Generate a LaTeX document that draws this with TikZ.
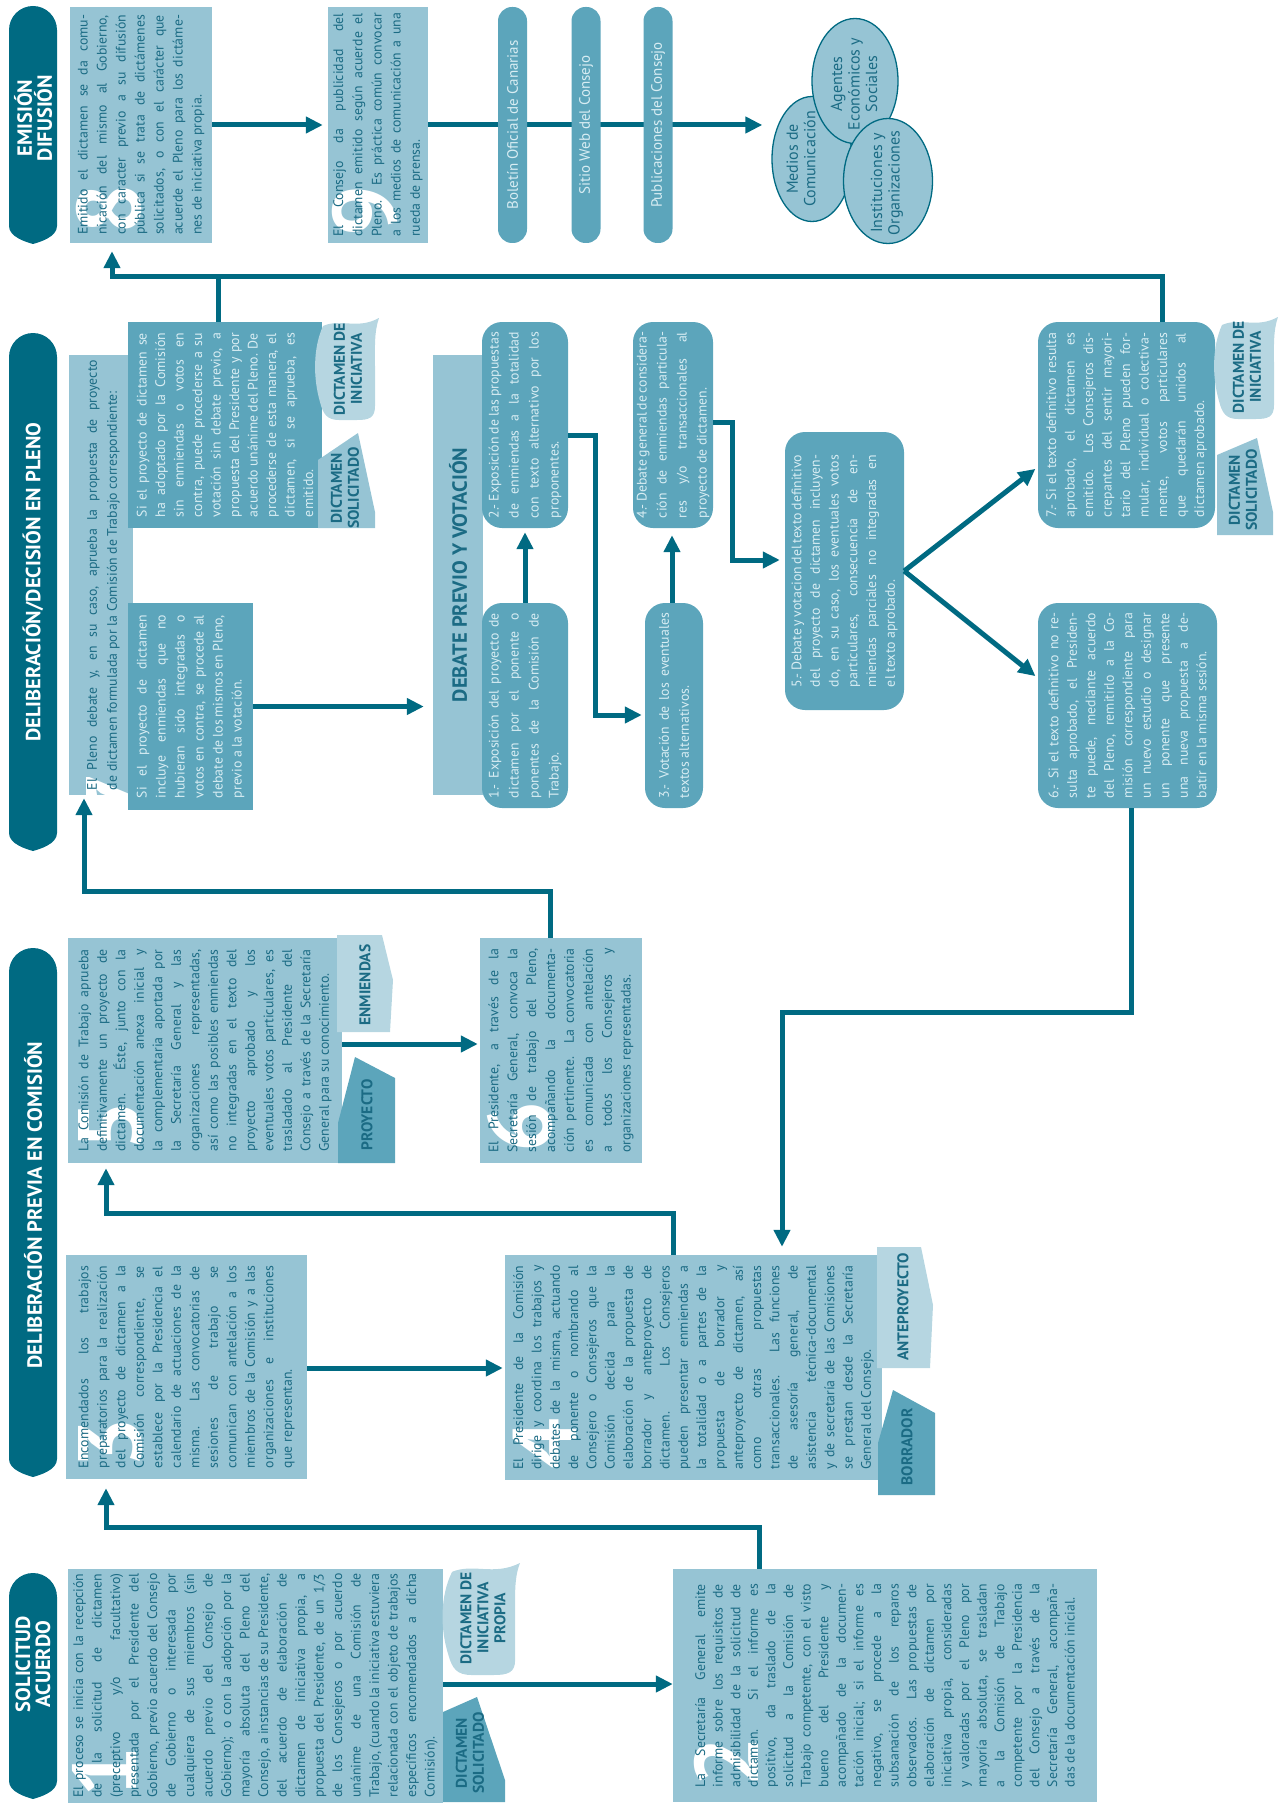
\documentclass[tikz,border=0pt]{standalone}
\usepackage{fontspec}
\setmainfont{PT Sans}
\usetikzlibrary{arrows.meta,shapes.geometric}

\definecolor{oscuro}{RGB}{0,106,130}
\definecolor{azul}{RGB}{150,196,212}
\definecolor{medio}{RGB}{92,165,187}
\definecolor{palido}{RGB}{182,214,225}
\definecolor{tinta}{RGB}{27,107,132}
\definecolor{tintaclara}{RGB}{216,237,243}

% big white step number behind the first lines
\newcommand{\cifra}[1]{\makebox[0pt][l]{\smash{\raisebox{-53pt}{\color{white}\fontsize{90}{90}\selectfont\bfseries #1}}}}

\tikzset{
  tolerance/.code={\tolerance=#1},
  texto/.style={rotate=90, align=justify, inner xsep=5pt, inner ysep=3pt, tolerance=10000,
    font=\fontsize{13.8}{18.5}\selectfont},
  clara/.style={texto, fill=azul, text=tinta},
  media/.style={texto, fill=medio, text=tintaclara},
  paso/.style={media, rounded corners=20pt, inner xsep=10pt, font=\fontsize{13.8}{20}\selectfont},
  pildora/.style={rotate=90, fill=medio, text=tintaclara, rounded corners=14pt,
    minimum width=236pt, minimum height=29pt, inner sep=0pt, font=\fontsize{15}{17}\selectfont},
  publico/.style={ellipse, rotate=90, fill=azul, draw=oscuro, line width=1.3pt,
    inner sep=0pt, minimum width=125pt},
  rotulo/.style={rotate=90, text=tinta, align=center, inner sep=0pt, font=\fontsize{16}{17.5}\selectfont},
  etiqueta/.style={rotate=90, text=tinta, align=center, inner sep=0pt,
    font=\fontsize{15.5}{17}\selectfont\bfseries},
  titulo/.style={rotate=90, text=white, align=center, inner sep=0pt,
    font=\fontsize{20.5}{20}\selectfont\bfseries},
  linea/.style={draw=oscuro, line width=5pt},
  flecha/.style={linea, -{Triangle[length=17pt, width=16pt]}},
}

\begin{document}
\begin{tikzpicture}[x=1pt, y=-1pt]
\useasboundingbox (0,0) rectangle (1284,1803);

% column headers
\fill[oscuro] (9,1597) arc (180:360:24) -- (57,1781) .. controls (57,1792) and (40,1797) .. (33,1799) .. controls (26,1797) and (9,1792) .. (9,1781) -- cycle;
\fill[oscuro] (9,972) arc (180:360:24) -- (57,1459) .. controls (57,1470) and (40,1475) .. (33,1477) .. controls (26,1475) and (9,1470) .. (9,1459) -- cycle;
\fill[oscuro] (9,357) arc (180:360:24) -- (57,833) .. controls (57,844) and (40,849) .. (33,851) .. controls (26,849) and (9,844) .. (9,833) -- cycle;
\fill[oscuro] (9,30) arc (180:360:24) -- (57,226) .. controls (57,237) and (40,242) .. (33,244) .. controls (26,242) and (9,237) .. (9,226) -- cycle;
\node[titulo] (h1) at (33,1664) {SOLICITUD\\ACUERDO};
\node[titulo] (h2) at (33,1205) {DELIBERACIÓN PREVIA EN COMISIÓN};
\node[titulo] (h3) at (33,582) {DELIBERACIÓN/DECISIÓN EN PLENO};
\node[titulo] (h4) at (33,118) {EMISIÓN\\DIFUSIÓN};

% solicitud
\node[clara, text width=224pt, minimum height=375pt] (b1) at (255.5,1685.5) {\cifra{1}El proceso se inicia con la recepción \linebreak de la solicitud de dictamen \linebreak (preceptivo y/o facultativo) \linebreak presentada por el Presidente del \linebreak Gobierno, previo acuerdo del Consejo \linebreak de Gobierno o interesada por \linebreak cualquiera de sus miembros (sin \linebreak acuerdo previo del Consejo de \linebreak Gobierno); o con la adopción por la \linebreak mayoría absoluta del Pleno del \linebreak Consejo, a instancias de su Presidente, \linebreak del acuerdo de elaboración de \linebreak dictamen de iniciativa propia, a \linebreak propuesta del Presidente, de un 1/3 \linebreak de los Consejeros o por acuerdo \linebreak unánime de una Comisión de \linebreak Trabajo, (cuando la iniciativa estuviera \linebreak relacionada con el objeto de trabajos \linebreak específicos encomendados a dicha \linebreak Comisión).};
\node[clara, text width=203pt, inner xsep=15pt, minimum height=424pt, font=\fontsize{13.8}{17.6}\selectfont] (b2) at (885,1685.5) {\cifra{2}La Secretaría General emite \linebreak informe sobre los requisitos de \linebreak admisibilidad de la solicitud de \linebreak dictamen. Si el informe es \linebreak positivo, da traslado de la \linebreak solicitud a la Comisión de \linebreak Trabajo competente, con el visto \linebreak bueno del Presidente y \linebreak acompañado de la documen-\linebreak tación inicial; si el informe es \linebreak negativo, se procede a la \linebreak subsanación de los reparos \linebreak observados. Las propuestas de \linebreak elaboración de dictamen por \linebreak iniciativa propia, consideradas \linebreak y valoradas por el Pleno por \linebreak mayoría absoluta, se trasladan \linebreak a la Comisión de Trabajo \linebreak competente por la Presidencia \linebreak del Consejo a través de la \linebreak Secretaría General, acompaña-\linebreak das de la documentación inicial.};

% comision
\node[clara, text width=202pt, inner xsep=11pt, minimum height=241pt] (b3) at (186.5,1367) {\cifra{3}Encomendados los trabajos \linebreak preparatorios para la realización \linebreak del proyecto de dictamen a la \linebreak Comisión correspondiente, se \linebreak establece por la Presidencia el \linebreak calendario de actuaciones de la \linebreak misma. Las convocatorias de \linebreak sesiones de trabajo se \linebreak comunican con antelación a los \linebreak miembros de la Comisión y a las \linebreak organizaciones e instituciones \linebreak que representan.};
\node[clara, text width=204pt, inner xsep=10.5pt, minimum height=377pt, font=\fontsize{13.8}{18.3}\selectfont] (b4) at (693.5,1367.5) {\cifra{4}El Presidente de la Comisión \linebreak dirige y coordina los trabajos y \linebreak debates de la misma, actuando \linebreak de ponente o nombrando al \linebreak Consejero o Consejeros que la \linebreak Comisión decida para la \linebreak elaboración de la propuesta de \linebreak borrador y anteproyecto de \linebreak dictamen. Los Consejeros \linebreak pueden presentar enmiendas a \linebreak la totalidad o a partes de la \linebreak propuesta de borrador y \linebreak anteproyecto de dictamen, así \linebreak como otras propuestas \linebreak transaccionales. Las funciones \linebreak de asesoría general, de \linebreak asistencia técnica-documental \linebreak y de secretaría de las Comisiones \linebreak se prestan desde la Secretaría \linebreak General del Consejo.};
\node[clara, text width=202pt, inner xsep=11.5pt, minimum height=274pt] (b5) at (205,1050.5) {\cifra{5}La Comisión de Trabajo aprueba \linebreak definitivamente un proyecto de \linebreak dictamen. Éste, junto con la \linebreak documentación anexa inicial y \linebreak la complementaria aportada por \linebreak la Secretaría General y las \linebreak organizaciones representadas, \linebreak así como las posibles enmiendas \linebreak no integradas en el texto del \linebreak proyecto aprobado y los \linebreak eventuales votos particulares, es \linebreak trasladado al Presidente del \linebreak Consejo a través de la Secretaría \linebreak General para su conocimiento.};
\node[clara, text width=204pt, inner xsep=10.5pt, minimum height=162pt, font=\fontsize{13.8}{18.9}\selectfont] (b6) at (561,1050.5) {\cifra{6}El Presidente, a través de la \linebreak Secretaría General, convoca la \linebreak sesión de trabajo del Pleno, \linebreak acompañando la documenta-\linebreak ción pertinente. La convocatoria \linebreak es comunicada con antelación \linebreak a todos los Consejeros y \linebreak organizaciones representadas.};

% pleno
\node[clara, text width=430pt, minimum height=64pt, text depth=18pt, font=\fontsize{13.8}{20}\selectfont] (b7) at (101,575) {\leftskip=35pt \rightskip=7pt \hspace*{-33pt}\cifra{7}\hspace*{33pt}El Pleno debate y, en su caso, aprueba la propuesta de proyecto \linebreak de dictamen formulada por la Comisión de Trabajo correspondiente:};
\node[media, text width=184pt, inner xsep=11pt, minimum height=194pt] (b7a) at (225,425) {Si el proyecto de dictamen se \linebreak ha adoptado por la Comisión \linebreak sin enmiendas o votos en \linebreak contra, puede procederse a su \linebreak votación sin debate previo, a \linebreak propuesta del Presidente y por \linebreak acuerdo unánime del Pleno. De \linebreak procederse de esta manera, el \linebreak dictamen, si se aprueba, es \linebreak emitido.};
\node[media, text width=183pt, inner xsep=12pt, minimum height=125pt, font=\fontsize{13.8}{19}\selectfont] (b7b) at (190.5,706.5) {Si el proyecto de dictamen \linebreak incluye enmiendas que no \linebreak hubieran sido integradas o \linebreak votos en contra, se procede al \linebreak debate de los mismos en Pleno, \linebreak previo a la votación.};
\node[clara, minimum width=440pt, minimum height=50pt, font=\fontsize{20.5}{20}\selectfont\bfseries] (bd) at (458,575) {DEBATE PREVIO Y VOTACIÓN};
\node[paso, text width=185pt, minimum height=86pt] (r1) at (525,705.5) {\hangindent=20pt \hangafter=1\relax 1.- Exposición del proyecto de \linebreak dictamen por el ponente o \linebreak ponentes de la Comisión de \linebreak Trabajo.};
\node[paso, text width=186pt, minimum height=86pt] (r2) at (525,425) {\hangindent=20pt \hangafter=1\relax 2.- Exposición de las propuestas \linebreak de enmiendas a la totalidad \linebreak con texto alternativo por los \linebreak proponentes.};
\node[paso, text width=185pt, minimum height=58pt] (r3) at (674,705.5) {\hangindent=20pt \hangafter=1\relax 3.- Votación de los eventuales \linebreak textos alternativos.};
\node[paso, text width=186pt, minimum height=80pt] (r4) at (673,425) {\hangindent=20pt \hangafter=1\relax \parfillskip=0pt 4.- Debate general de considera-\linebreak ción de enmiendas particula-\linebreak res y/o transaccionales al \linebreak proyecto de dictamen.};
\node[paso, text width=232pt, inner xsep=23pt, minimum height=119pt, font=\fontsize{13.8}{18.7}\selectfont] (r5) at (844.5,571) {\hangindent=20pt \hangafter=1\relax 5.- Debate y votacion del texto definitivo \linebreak del proyecto de dictamen incluyen-\linebreak do, en su caso, los eventuales votos \linebreak particulares, consecuencia de en-\linebreak miendas parciales no integradas en \linebreak el texto aprobado.};
\node[paso, text width=184pt, inner xsep=11pt, minimum height=177pt, font=\fontsize{13.8}{18.5}\selectfont] (r7) at (1126.5,425) {\hangindent=20pt \hangafter=1\relax 7.- Si el texto definitivo resulta \linebreak aprobado, el dictamen es \linebreak emitido. Los Consejeros dis-\linebreak crepantes del sentir mayori-\linebreak tario del Pleno pueden for-\linebreak mular, individual o colectiva-\linebreak mente, votos particulares \linebreak que quedarán unidos al \linebreak dictamen aprobado.};
\node[paso, text width=185pt, minimum height=179pt, font=\fontsize{13.8}{18.5}\selectfont] (r6) at (1127.5,705.5) {\hangindent=20pt \hangafter=1\relax 6.- Si el texto definitivo no re-\linebreak sulta aprobado, el Presiden-\linebreak te puede, mediante acuerdo \linebreak del Pleno, remitirlo a la Co-\linebreak misión correspondiente para \linebreak un nuevo estudio o designar \linebreak un ponente que presente \linebreak una nueva propuesta a de-\linebreak batir en la misma sesión.};

% emision
\node[clara, text width=220pt, inner xsep=8pt, minimum height=142pt, font=\fontsize{13.8}{19}\selectfont] (b8) at (141,125) {\cifra{8}Emitido el dictamen se da comu-\linebreak nicación del mismo al Gobierno, \linebreak con caracter previo a su difusión \linebreak pública si se trata de dictámenes \linebreak solicitados, o con el carácter que \linebreak acuerde el Pleno para los dictáme-\linebreak nes de iniciativa propia.};
\node[clara, text width=224pt, inner xsep=6pt, minimum height=100pt, font=\fontsize{13.8}{19.2}\selectfont] (b9) at (378,125) {\cifra{9}El Consejo da publicidad del \linebreak dictamen emitido según acuerde el \linebreak Pleno. Es práctica común convocar \linebreak a los medios de comunicación a una \linebreak rueda de prensa.};

% tags
\begin{scope}[shift={(440,1563)}, xscale=80/66, yscale=112/102]
\fill[palido] (10,8) .. controls (28,0) and (44,12) .. (66,0) .. controls (61,14) and (62,30) .. (62,50) -- (62,88) .. controls (62,100) and (56,102) .. (44,102) -- (26,102) .. controls (14,102) and (10,96) .. (7,84) .. controls (0,60) and (0,30) .. (10,8) -- cycle;
\end{scope}
\begin{scope}[shift={(313,318)}]
\fill[palido] (10,8) .. controls (28,0) and (44,12) .. (66,0) .. controls (61,14) and (62,30) .. (62,50) -- (62,88) .. controls (62,100) and (56,102) .. (44,102) -- (26,102) .. controls (14,102) and (10,96) .. (7,84) .. controls (0,60) and (0,30) .. (10,8) -- cycle;
\end{scope}
\begin{scope}[shift={(1212,317)}]
\fill[palido] (10,8) .. controls (28,0) and (44,12) .. (66,0) .. controls (61,14) and (62,30) .. (62,50) -- (62,88) .. controls (62,100) and (56,102) .. (44,102) -- (26,102) .. controls (14,102) and (10,96) .. (7,84) .. controls (0,60) and (0,30) .. (10,8) -- cycle;
\end{scope}
\fill[medio] (443,1712) -- (477,1697) -- (505,1780) -- (505,1802) -- (443,1802) -- cycle;
\fill[azul] (318,460) -- (358,433) -- (375,512) -- (375,528) -- (318,528) -- cycle;
\fill[azul] (1217,455) -- (1257,438) -- (1273,512) -- (1273,535) -- (1217,535) -- cycle;
\fill[palido] (877,1247) -- (921,1247) -- (933,1305) -- (930,1368) -- (877,1368) -- cycle;
\fill[medio] (878,1443) -- (893,1390) -- (935,1413) -- (935,1495) -- (878,1495) -- cycle;
\fill[palido] (337,935) -- (382,935) -- (393,980) -- (390,1032) -- (337,1032) -- cycle;
\fill[medio] (338,1123) -- (355,1057) -- (395,1078) -- (395,1163) -- (338,1163) -- cycle;
\node[etiqueta] (tpropia) at (483,1618) {DICTAMEN DE\\INICIATIVA\\PROPIA};
\node[etiqueta] (tsol1) at (470,1753) {DICTAMEN\\SOLICITADO};
\node[etiqueta] (tante) at (903,1307) {ANTEPROYECTO};
\node[etiqueta] (tborr) at (907,1447) {BORRADOR};
\node[etiqueta] (tenm) at (365,985) {ENMIENDAS};
\node[etiqueta] (tproy) at (367,1115) {PROYECTO};
\node[etiqueta] (tini2) at (348,369) {DICTAMEN DE\\INICIATIVA};
\node[etiqueta] (tsol2) at (345,488) {DICTAMEN\\SOLICITADO};
\node[etiqueta] (tini3) at (1247,367) {DICTAMEN DE\\INICIATIVA};
\node[etiqueta] (tsol3) at (1243,490) {DICTAMEN\\SOLICITADO};

% connectors
\draw[flecha] (b1.south |- 0,1684) -- (b2.north |- 0,1684);
\draw[flecha, shorten >=9pt] (b2.east -| 759,0) |- (106,1527) -- (b3.west -| 106,0);
\draw[flecha, shorten >=2pt] (b3.south |- 0,1368) -- (b4.north |- 0,1368);
\draw[flecha, shorten >=5pt] (b4.east -| 673,0) |- (106,1213) -- (b5.west -| 106,0);
\draw[flecha, shorten >=2pt] (b5.south |- 0,1044) -- (b6.north |- 0,1044);
\draw[flecha, shorten >=3pt] (b6.east -| 550,0) |- (84,891) -- (b7.west -| 84,0);
\draw[flecha, shorten >=9pt] (b7b.south) -- (bd.north |- b7b.south);
\draw[flecha, shorten >=4pt] (r1.east) -- (r2.west);
\draw[flecha, shorten >=3pt] (r2.south |- 0,435) -| (595,715) -- (r3.north |- 0,715);
\draw[flecha, shorten >=7pt] (r3.east -| 672,0) -- (r4.west -| 672,0);
\draw[flecha, shorten >=5pt] (r4.south |- 0,422) -| (732,560) -- (r5.north |- 0,560);
\draw[flecha, shorten >=3pt] (r5.south) -- (r7.north |- 0,467);
\draw[flecha, shorten >=3pt] (r5.south) -- (r6.north |- 0,678);
\draw[flecha, shorten >=8pt] (r6.west -| 1131,0) |- (782,1012) -- (b4.east -| 782,0);
\draw[linea] (b7a.east -| 218,0) -- (218,276);
\draw[flecha, shorten >=8pt] (r7.east -| 1162,0) |- (112,276) -- (b8.west -| 112,0);
\draw[flecha, shorten >=5pt] (b8.south |- 0,125) -- (b9.north);

% diffusion channels and audience
\node[publico, minimum height=80pt] (medios) at (812,159) {};
\draw[flecha, shorten >=9pt] (b9.south) -- (medios.north |- b9.south);
\node[pildora] (boc) at (512.5,125) {Boletín Oficial de Canarias};
\node[pildora] (web) at (586,125) {Sitio Web del Consejo};
\node[pildora] (pub) at (658,125) {Publicaciones del Consejo};
\node[publico, minimum height=86pt] (agentes) at (855,81) {};
\node[publico, minimum height=89pt] (instit) at (888,181) {};
\node[rotulo] (tmedios) at (801,159) {Medios de\\Comunicación};
\node[rotulo] (tagentes) at (854,84) {Agentes\\Económicos y\\Sociales};
\node[rotulo] (tinstit) at (887,183) {Instituciones y\\Organizaciones};
\end{tikzpicture}
\end{document}
